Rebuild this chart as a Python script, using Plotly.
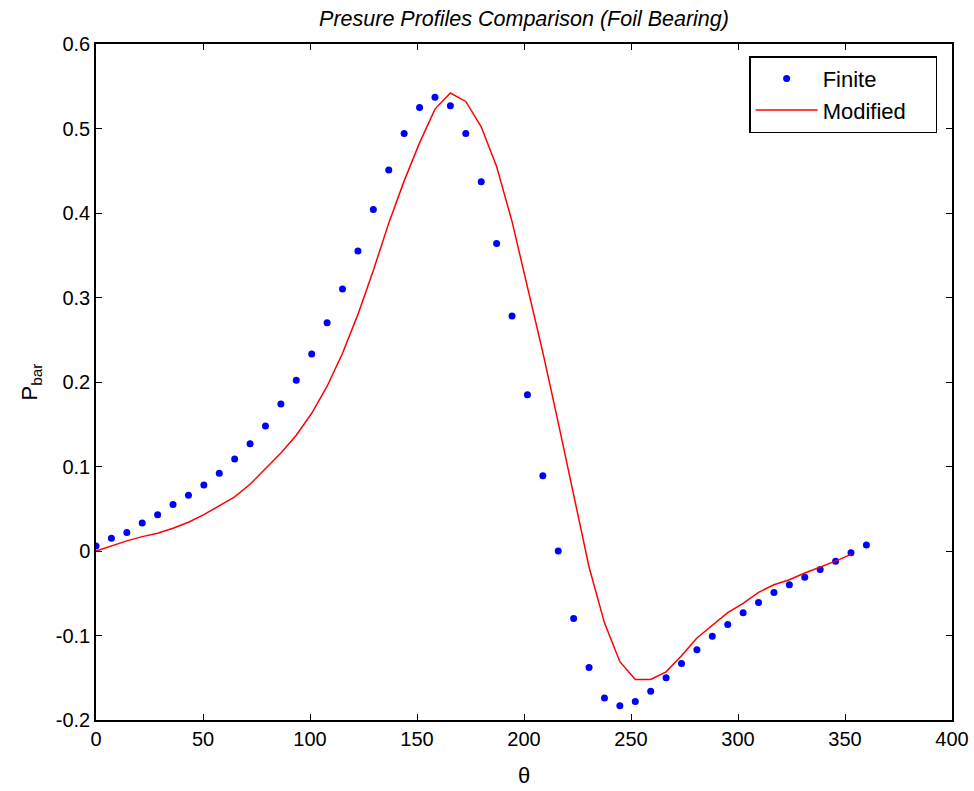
import plotly.graph_objects as go

theta_finite = [round(7.2 * i, 1) for i in range(51)]
p_finite = [0.006, 0.015, 0.022, 0.033, 0.043, 0.055, 0.066, 0.078, 0.092, 0.109,
            0.127, 0.148, 0.174, 0.202, 0.233, 0.270, 0.310, 0.355, 0.404, 0.451,
            0.494, 0.525, 0.537, 0.527, 0.494, 0.437, 0.364, 0.278, 0.185, 0.089,
            0.000, -0.080, -0.138, -0.174, -0.183, -0.178, -0.166, -0.150, -0.133, -0.117,
            -0.101, -0.087, -0.073, -0.061, -0.049, -0.040, -0.031, -0.022, -0.012, -0.002,
            0.007]

theta_mod = [round(7.2 * i, 1) for i in range(50)]
p_mod = [0.000, 0.006, 0.012, 0.017, 0.021, 0.027, 0.034, 0.043, 0.053, 0.064,
         0.079, 0.097, 0.116, 0.137, 0.163, 0.195, 0.234, 0.280, 0.332, 0.388,
         0.438, 0.483, 0.523, 0.542, 0.532, 0.502, 0.455, 0.390, 0.314, 0.235,
         0.152, 0.065, -0.019, -0.085, -0.131, -0.152, -0.152, -0.143, -0.124, -0.103,
         -0.088, -0.073, -0.062, -0.049, -0.040, -0.034, -0.026, -0.019, -0.012, -0.004]

x_ticks = [0, 50, 100, 150, 200, 250, 300, 350, 400]
y_ticks = [-0.2, -0.1, 0, 0.1, 0.2, 0.3, 0.4, 0.5, 0.6]
y_ticklabels = ["-0.2", "-0.1", "0", "0.1", "0.2", "0.3", "0.4", "0.5", "0.6"]

FONT = "Liberation Sans, Arial, sans-serif"
PAD = "\u00a0" * 4

fig = go.Figure()
fig.add_trace(go.Scatter(x=theta_finite, y=p_finite, mode="markers", name="Finite",
                         marker=dict(color="#0000ff", size=7, line=dict(width=0))))
fig.add_trace(go.Scatter(x=theta_mod, y=p_mod, mode="lines", name="Modified" + PAD,
                         line=dict(color="#ff0000", width=1.5)))

axis_common = dict(showgrid=False, zeroline=False, showline=True, linecolor="black",
                   linewidth=1.5, mirror="ticks", ticks="inside", ticklen=6,
                   tickcolor="black", tickwidth=1.2, automargin=False,
                   tickfont=dict(family=FONT, size=20, color="black"))

fig.update_layout(
    width=974, height=791,
    margin=dict(l=96, r=22, t=44, b=71),
    paper_bgcolor="white", plot_bgcolor="white",
    title=dict(text="<i>Presure Profiles Comparison (Foil Bearing)</i>",
               x=0.538, xanchor="center", y=0.977, yanchor="middle",
               font=dict(family=FONT, size=21.5, color="black")),
    xaxis=dict(range=[0, 400], tickvals=x_ticks, ticktext=[str(v) for v in x_ticks],
               title=dict(text="θ", font=dict(family=FONT, size=22, color="black"), standoff=19),
               **axis_common),
    yaxis=dict(range=[-0.2, 0.6], tickvals=y_ticks, ticktext=y_ticklabels,
               title=dict(text="P<sub>bar</sub>", font=dict(family=FONT, size=22, color="black"), standoff=12),
               **axis_common),
    legend=dict(x=0.763, y=0.982, xanchor="left", yanchor="top",
                bgcolor="white", bordercolor="black", borderwidth=1.5,
                font=dict(family=FONT, size=22, color="black"),
                tracegroupgap=0, itemwidth=62),
    showlegend=True,
)

fig.write_html("out.html")
